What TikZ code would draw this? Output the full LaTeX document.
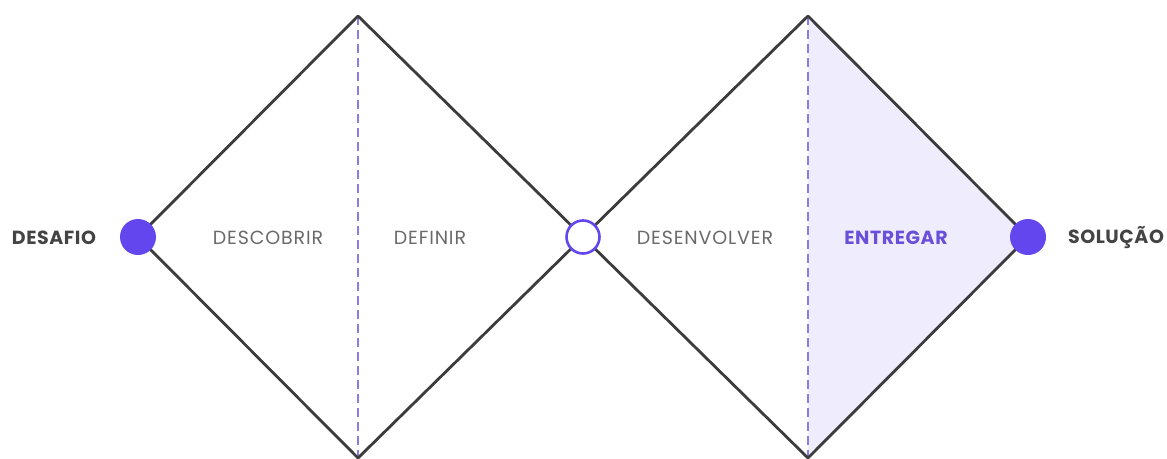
\documentclass[tikz,border=0pt]{standalone}
\usepackage{fontspec}
\setmainfont{Poppins}
\definecolor{edgegray}{HTML}{3C3C3C}
\definecolor{dashpurple}{HTML}{8B7BE3}
\definecolor{dotpurple}{HTML}{6446EE}
\definecolor{fillpurple}{HTML}{EFECFD}
\definecolor{textgray}{HTML}{6A6A6A}
\definecolor{labelgray}{HTML}{444444}
\definecolor{textpurple}{HTML}{6A50D8}
\begin{document}
\begin{tikzpicture}[x=1pt,y=-1pt,
  edge/.style={draw=edgegray,line width=2.8pt,line join=round,line cap=round},
  divider/.style={draw=dashpurple,line width=1.8pt,dash pattern=on 9pt off 5pt},
  dotfull/.style={circle,fill=dotpurple,minimum size=36pt,inner sep=0pt},
  dotopen/.style={circle,fill=white,draw=dotpurple,line width=2.6pt,minimum size=33pt,inner sep=0pt},
  phase/.style={font=\fontsize{19}{22}\selectfont\addfontfeature{LetterSpace=4.5},text=textgray},
  phasebold/.style={font=\fontsize{19}{22}\selectfont\bfseries\addfontfeature{LetterSpace=3},text=textpurple},
  endlabel/.style={font=\fontsize{19}{22}\selectfont\bfseries\addfontfeature{LetterSpace=3},text=labelgray}]
\useasboundingbox (0,0) rectangle (1167,458);
% vertices
\coordinate (L) at (138,237);
\coordinate (T1) at (358,16);
\coordinate (B1) at (358,458);
\coordinate (M) at (583,237);
\coordinate (T2) at (808,16);
\coordinate (B2) at (808,458);
\coordinate (R) at (1028,237);
% fill of last quarter
\fill[fillpurple] (T2) -- (R) -- (B2) -- cycle;
% dashed dividers
\draw[divider] (T1) -- (B1);
\draw[divider] (T2) -- (B2);
% diamond edges
\draw[edge] (L) -- (T1) -- (M) -- (T2) -- (R) -- (B2) -- (M) -- (B1) -- cycle;
% dots
\node[dotfull] (start) at (L) {};
\node[dotopen] (mid) at (M) {};
\node[dotfull] (finish) at (R) {};
% labels
\node[endlabel] (desafio) at (54,238) {DESAFIO};
\node[phase] (descobrir) at (268,238) {DESCOBRIR};
\node[phase] (definir) at (430,238) {DEFINIR};
\node[phase] (desenvolver) at (705,238) {DESENVOLVER};
\node[phasebold] (entregar) at (896,238) {ENTREGAR};
\node[endlabel] (solucao) at (1116,238) {SOLUÇÃO};
\end{tikzpicture}
\end{document}
